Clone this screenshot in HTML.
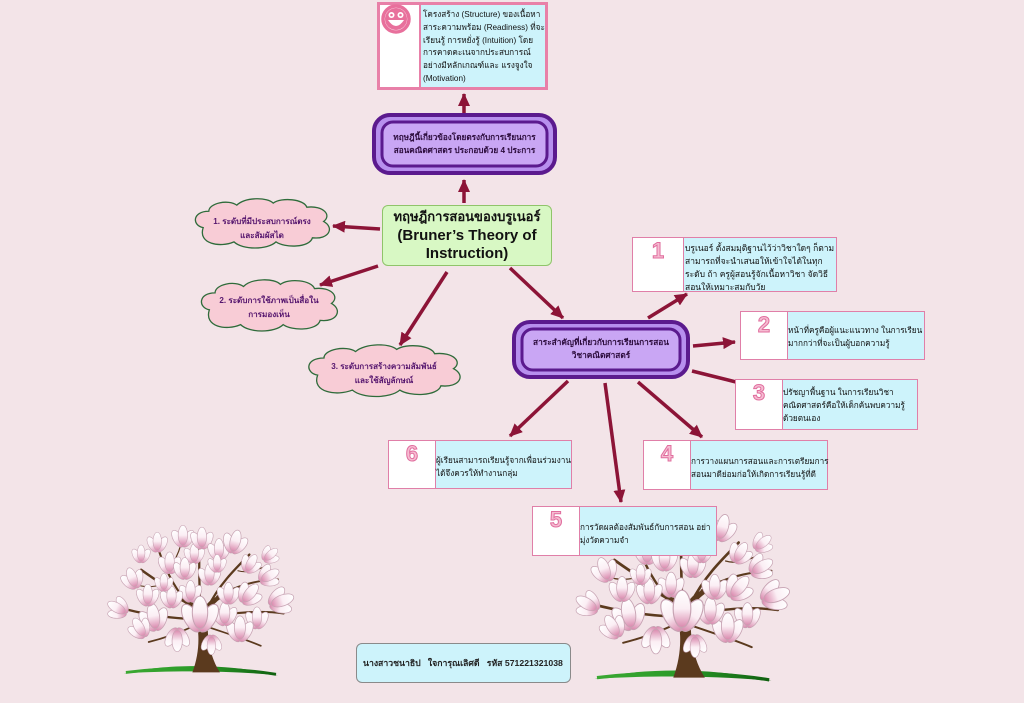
<!DOCTYPE html>
<html><head><meta charset="utf-8">
<style>
html,body{margin:0;padding:0;}
body{width:1024px;height:703px;position:relative;overflow:hidden;background:#f3e4e8;font-family:"Liberation Sans","DejaVu Sans",sans-serif;}
.abs{position:absolute;box-sizing:border-box;}
.t{position:absolute;white-space:nowrap;}
.nb{position:absolute;box-sizing:border-box;border:1.5px solid #e07fa8;background:#cdf3fb;}
.nb .w{position:absolute;left:0;top:0;bottom:0;background:#fff;border-right:1.5px solid #e07fa8;}
.nb .n{position:absolute;left:0;right:0;top:2px;text-align:center;font-size:22px;font-weight:bold;color:#f6bcd2;-webkit-text-stroke:1px #e06e9e;line-height:22px;}
.nb .x{position:absolute;font-size:8.2px;line-height:13px;color:#111;white-space:nowrap;}
.cl{position:absolute;text-align:center;font-size:8.1px;font-weight:bold;color:#55156e;line-height:14px;white-space:nowrap;}
</style></head><body>

<svg class="abs" style="left:0;top:0" width="1024" height="703" viewBox="0 0 1024 703">
<defs>
<marker id="ah" markerUnits="userSpaceOnUse" markerWidth="14" markerHeight="12" refX="12" refY="6" orient="auto">
<path d="M0,0 L13,6 L0,12 z" fill="#8c1437"/>
</marker>
<linearGradient id="pg" x1="0" y1="0" x2="0" y2="1">
<stop offset="0" stop-color="#ffffff"/><stop offset="0.5" stop-color="#fbeef4"/><stop offset="1" stop-color="#d988ad"/>
</linearGradient>
<linearGradient id="gg" x1="0" y1="0" x2="1" y2="0">
<stop offset="0" stop-color="#3aa832"/><stop offset="0.5" stop-color="#2a9a28"/><stop offset="1" stop-color="#106010"/>
</linearGradient>
<g id="fl">
<ellipse cx="-4" cy="-3" rx="4.3" ry="9" transform="rotate(-30)" fill="url(#pg)" stroke="#c7a3b3" stroke-width="0.6"/>
<ellipse cx="4" cy="-3" rx="4.3" ry="9" transform="rotate(30)" fill="url(#pg)" stroke="#c7a3b3" stroke-width="0.6"/>
<ellipse cx="0" cy="-4" rx="4.5" ry="9.5" fill="url(#pg)" stroke="#c7a3b3" stroke-width="0.6"/>
</g>
<g id="tree">
<path d="M20,153 C60,143 130,142 182,155 C130,150 70,150 20,153 Z" fill="url(#gg)"/>
<path d="M22,152 C70,146 130,146 180,154" stroke="url(#gg)" stroke-width="3" fill="none"/>
<path d="M92,152 C99,133 100,114 96,96 C94,86 88,81 80,77 L84,74 C92,78 98,82 102,88 C106,80 112,74 122,70 L124,73 C114,79 108,87 108,101 C108,121 112,138 121,152 Z" fill="#5b3a1e"/>
<g stroke="#5b3a1e" fill="none" stroke-linecap="round">
<path d="M96,90 C80,70 60,60 38,44" stroke-width="2.6"/>
<path d="M84,76 C72,60 64,45 56,22" stroke-width="2.2"/>
<path d="M100,88 C100,60 98,40 100,16" stroke-width="2.4"/>
<path d="M108,84 C120,60 135,45 152,28" stroke-width="2.4"/>
<path d="M118,72 C140,60 160,55 182,54" stroke-width="2"/>
<path d="M112,92 C140,90 160,86 188,90" stroke-width="2.2"/>
<path d="M94,96 C70,95 45,92 16,84" stroke-width="2.4"/>
<path d="M100,100 C80,110 62,116 46,120" stroke-width="1.8"/>
<path d="M108,104 C125,110 145,116 164,124" stroke-width="1.8"/>
<path d="M60,60 C50,62 38,64 26,56" stroke-width="1.2"/>
<path d="M140,45 C150,48 160,44 170,40" stroke-width="1.2"/>
<path d="M70,40 C76,30 80,20 82,8" stroke-width="1.2"/>
</g>
<use href="#fl" transform="translate(16,86) scale(1.1) rotate(-60)"/>
<use href="#fl" transform="translate(30,56) scale(1.1) rotate(-20)"/>
<use href="#fl" transform="translate(38,30) scale(0.9)"/>
<use href="#fl" transform="translate(55,18)"/>
<use href="#fl" transform="translate(68,40) scale(1.1)"/>
<use href="#fl" transform="translate(82,12) scale(1.1)"/>
<use href="#fl" transform="translate(94,30)"/>
<use href="#fl" transform="translate(102,14) scale(1.1)"/>
<use href="#fl" transform="translate(120,26) scale(1.1)"/>
<use href="#fl" transform="translate(136,18) scale(1.2) rotate(15)"/>
<use href="#fl" transform="translate(152,40) rotate(30)"/>
<use href="#fl" transform="translate(170,52) scale(1.1) rotate(60)"/>
<use href="#fl" transform="translate(182,78) scale(1.3) rotate(70)"/>
<use href="#fl" transform="translate(160,98) scale(1.1)"/>
<use href="#fl" transform="translate(142,110) scale(1.3)"/>
<use href="#fl" transform="translate(126,94) scale(1.2)"/>
<use href="#fl" transform="translate(90,70) scale(1.1)"/>
<use href="#fl" transform="translate(70,76) scale(1.1)"/>
<use href="#fl" transform="translate(52,98) scale(1.4) rotate(-10)"/>
<use href="#fl" transform="translate(38,108) scale(1.1) rotate(-30)"/>
<use href="#fl" transform="translate(76,114) scale(1.2) rotate(180)"/>
<use href="#fl" transform="translate(112,120) scale(1) rotate(180)"/>
<use href="#fl" transform="translate(130,72) scale(1.1)"/>
<use href="#fl" transform="translate(150,72) scale(1.2) rotate(40)"/>
<use href="#fl" transform="translate(110,52) scale(1.1)"/>
<use href="#fl" transform="translate(84,46) scale(1.1)"/>
<use href="#fl" transform="translate(45,74) scale(1.1)"/>
<use href="#fl" transform="translate(118,40) scale(0.9)"/>
<use href="#fl" transform="translate(172,30) scale(0.9) rotate(50)"/>
<use href="#fl" transform="translate(62,60) scale(0.9)"/>
<use href="#fl" transform="translate(100,96) scale(1.8)"/>
</g>
</defs>

<!-- clouds -->
<g fill="#f8ccd6" stroke="#2e6b3a" stroke-width="1.3">
<path transform="translate(192,197) scale(1.4,1.02)" vector-effect="non-scaling-stroke" d="M8,30 C0,28 0,14 12,14 C12,6 26,2 32,8 C38,0 54,0 58,6 C64,0 80,2 82,10 C94,8 100,18 94,24 C102,30 98,42 86,40 C84,50 66,50 60,44 C54,52 36,52 30,44 C20,50 4,46 8,30 Z"/>
<path transform="translate(198,278) scale(1.42,1.06)" vector-effect="non-scaling-stroke" d="M8,30 C0,28 0,14 12,14 C12,6 26,2 32,8 C38,0 54,0 58,6 C64,0 80,2 82,10 C94,8 100,18 94,24 C102,30 98,42 86,40 C84,50 66,50 60,44 C54,52 36,52 30,44 C20,50 4,46 8,30 Z"/>
<path transform="translate(305,343) scale(1.58,1.07)" vector-effect="non-scaling-stroke" d="M8,30 C0,28 0,14 12,14 C12,6 26,2 32,8 C38,0 54,0 58,6 C64,0 80,2 82,10 C94,8 100,18 94,24 C102,30 98,42 86,40 C84,50 66,50 60,44 C54,52 36,52 30,44 C20,50 4,46 8,30 Z"/>
</g>

<!-- arrows -->
<g stroke="#8c1437" stroke-width="3.5" fill="none" marker-end="url(#ah)">
<line x1="464" y1="113" x2="464" y2="94"/>
<line x1="464" y1="203" x2="464" y2="180"/>
<line x1="380" y1="229" x2="333" y2="226"/>
<line x1="378" y1="266" x2="320" y2="285"/>
<line x1="447" y1="272" x2="400" y2="345"/>
<line x1="510" y1="268" x2="563" y2="318"/>
<line x1="648" y1="318" x2="687" y2="294"/>
<line x1="693" y1="346" x2="735" y2="342"/>
<line x1="638" y1="382" x2="702" y2="437"/>
<line x1="605" y1="383" x2="621" y2="502"/>
<line x1="568" y1="381" x2="510" y2="436"/>
</g>
<line x1="692" y1="371" x2="736" y2="382" stroke="#8c1437" stroke-width="3.5"/>

<!-- trees -->
<use href="#tree" transform="translate(105,528) scale(0.95)"/>
<use href="#tree" transform="translate(573,512) scale(1.09)"/>

<!-- purple boxes -->
<rect x="374" y="115" width="181" height="58" rx="16" fill="#b78fee" stroke="#5b1a8e" stroke-width="4"/>
<rect x="382" y="122" width="165" height="44" rx="11" fill="#c9a6f4" stroke="#5b1a8e" stroke-width="3"/>
<rect x="514" y="322" width="174" height="55" rx="16" fill="#b78fee" stroke="#5b1a8e" stroke-width="4"/>
<rect x="522" y="329" width="158" height="41" rx="11" fill="#c9a6f4" stroke="#5b1a8e" stroke-width="3"/>
</svg>

<!-- top box -->
<div class="abs" style="left:377px;top:2px;width:171px;height:88px;border:3px solid #e880a8;background:#cdf3fb;"></div>
<div class="abs" style="left:380px;top:5px;width:41px;height:82px;background:#fff;border-right:2px solid #e880a8;"></div>
<svg class="abs" style="left:381px;top:4px" width="32" height="32" viewBox="0 0 32 32">
<circle cx="15" cy="15" r="13" fill="none" stroke="#e8709c" stroke-width="3.5"/>
<circle cx="15" cy="15" r="11" fill="#e8709c"/>
<circle cx="10.5" cy="11" r="3" fill="#fff"/><circle cx="19.5" cy="11" r="3" fill="#fff"/>
<circle cx="10.5" cy="11" r="1.3" fill="#e8709c"/><circle cx="19.5" cy="11" r="1.3" fill="#e8709c"/>
<path d="M7,16 Q15,28 23,16 Z" fill="#fff"/>
</svg>
<div class="t" style="left:423px;top:9px;font-size:8.2px;line-height:12.8px;color:#111;">โครงสร้าง (Structure) ของเนื้อหา<br>สาระความพร้อม (Readiness) ที่จะ<br>เรียนรู้ การหยั่งรู้ (Intuition) โดย<br>การคาดคะเนจากประสบการณ์<br>อย่างมีหลักเกณฑ์และ แรงจูงใจ<br>(Motivation)</div>

<!-- purple texts -->
<div class="t" style="left:382px;width:165px;top:131px;text-align:center;font-size:8.2px;line-height:13px;font-weight:bold;color:#2a0a3a;">ทฤษฎีนี้เกี่ยวข้องโดยตรงกับการเรียนการ<br>สอนคณิตศาสตร ประกอบด้วย 4 ประการ</div>
<div class="t" style="left:522px;width:158px;top:336px;text-align:center;font-size:8.3px;line-height:13px;font-weight:bold;color:#2a0a3a;">สาระสำคัญที่เกี่ยวกับการเรียนการสอน<br>วิชาคณิตศาสตร์</div>

<!-- green box -->
<div class="abs" style="left:382px;top:205px;width:170px;height:61px;border:1.5px solid #8fc46a;border-radius:6px;background:#d8f8c4;"></div>
<div class="t" style="left:382px;width:170px;top:208px;text-align:center;font-size:15px;line-height:18.5px;font-weight:bold;color:#111;"><span style="font-size:13px;">ทฤษฎีการสอนของบรูเนอร์</span><br>(Bruner’s Theory of<br>Instruction)</div>

<!-- cloud texts -->
<div class="cl" style="left:192px;width:140px;top:215px;">1. ระดับที่มีประสบการณ์ตรง<br>และสัมผัสได</div>
<div class="cl" style="left:198px;width:142px;top:294px;">2. ระดับการใช้ภาพเป็นสื่อใน<br>การมองเห็น</div>
<div class="cl" style="left:305px;width:158px;top:360px;">3. ระดับการสร้างความสัมพันธ์<br>และใช้สัญลักษณ์</div>

<!-- numbered boxes -->
<div class="nb" style="left:632px;top:237px;width:205px;height:55px;">
<div class="w" style="width:50px;"><div class="n">1</div></div>
<div class="x" style="left:52px;top:4px;font-size:8.5px;">บรูเนอร์ ตั้งสมมุติฐานไว้ว่าวิชาใดๆ ก็ตาม<br>สามารถที่จะนำเสนอให้เข้าใจได้ในทุก<br>ระดับ ถ้า ครูผู้สอนรู้จักเนื้อหาวิชา จัดวิธี<br>สอนให้เหมาะสมกับวัย</div>
</div>
<div class="nb" style="left:740px;top:311px;width:185px;height:49px;">
<div class="w" style="width:46px;"><div class="n">2</div></div>
<div class="x" style="left:47px;top:12px;">หน้าที่ครูคือผู้แนะแนวทาง ในการเรียน<br>มากกว่าที่จะเป็นผู้บอกความรู้</div>
</div>
<div class="nb" style="left:735px;top:379px;width:183px;height:51px;">
<div class="w" style="width:46px;"><div class="n">3</div></div>
<div class="x" style="left:47px;top:6px;">ปรัชญาพื้นฐาน ในการเรียนวิชา<br>คณิตศาสตร์คือให้เด็กค้นพบความรู้<br>ด้วยตนเอง</div>
</div>
<div class="nb" style="left:643px;top:440px;width:185px;height:50px;">
<div class="w" style="width:46px;"><div class="n">4</div></div>
<div class="x" style="left:47px;top:14px;">การวางแผนการสอนและการเตรียมการ<br>สอนมาดีย่อมก่อให้เกิดการเรียนรู้ที่ดี</div>
</div>
<div class="nb" style="left:388px;top:440px;width:184px;height:49px;">
<div class="w" style="width:46px;"><div class="n">6</div></div>
<div class="x" style="left:47px;top:13px;">ผู้เรียนสามารถเรียนรู้จากเพื่อนร่วมงาน<br>ได้จึงควรให้ทำงานกลุ่ม</div>
</div>
<div class="nb" style="left:532px;top:506px;width:185px;height:50px;">
<div class="w" style="width:46px;"><div class="n">5</div></div>
<div class="x" style="left:47px;top:14px;">การวัดผลต้องสัมพันธ์กับการสอน อย่า<br>มุ่งวัดความจำ</div>
</div>

<!-- footer -->
<div class="abs" style="left:356px;top:643px;width:215px;height:40px;border:1px solid #8a8a8a;border-radius:6px;background:#cdf3fb;"></div>
<div class="t" style="left:363px;top:657px;font-size:8.7px;line-height:12px;font-weight:bold;color:#222;">นางสาวชนาธิป&nbsp;&nbsp;&nbsp;ใจการุณเลิศดี&nbsp;&nbsp;&nbsp;รหัส 571221321038</div>

</body></html>
